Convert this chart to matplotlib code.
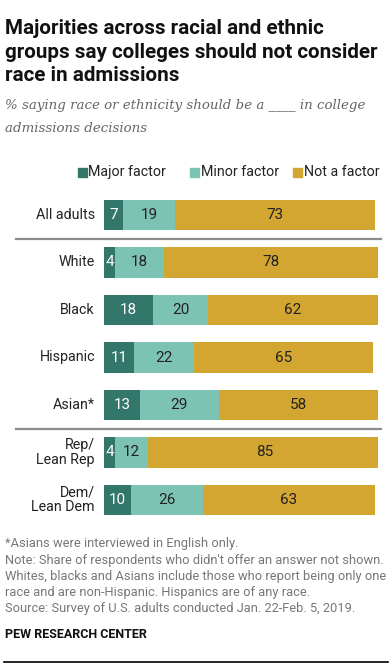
import matplotlib.pyplot as plt
from matplotlib.lines import Line2D
from matplotlib.patches import Rectangle

groups = ['All adults', 'White', 'Black', 'Hispanic', 'Asian*', 'Rep/\nLean Rep', 'Dem/\nLean Dem']
major = [7, 4, 18, 11, 13, 4, 10]
minor = [19, 18, 20, 22, 29, 12, 26]
not_factor = [73, 78, 62, 65, 58, 85, 63]
series_names = ['Major factor', 'Minor factor', 'Not a factor']
colors = ['#33776a', '#7dc3b3', '#d2a631']
text_colors = ['white', '#222222', '#222222']

W, H = 389, 669
fig = plt.figure(figsize=(W / 100, H / 100), dpi=100)

def fx(px):
    return px / W

def fy(py):
    return 1 - py / H

# bar area in pixels
left, right_px = 104, 104 + 274
top, bottom = 191.25, 523.75
ax = fig.add_axes([fx(left), fy(bottom), fx(right_px - left), (bottom - top) / H])
ax.set_xlim(0, 100)
ax.set_ylim(len(groups) - 0.5, -0.5)
ax.axis('off')

ypos = list(range(len(groups)))
starts = [0] * len(groups)
for vals, col, tcol in zip([major, minor, not_factor], colors, text_colors):
    ax.barh(ypos, vals, left=starts, height=0.65, color=col, linewidth=0)
    for y, s, v in zip(ypos, starts, vals):
        ax.text(s + v / 2, y, str(v), ha='center', va='center', color=tcol,
                fontsize=11, family='Roboto')
    starts = [s + v for s, v in zip(starts, vals)]

for y, g in zip(ypos, groups):
    ax.text(-3.3, y, g, ha='right', va='center', multialignment='right',
            fontsize=10.3, family='Roboto', color='#222222', linespacing=1.05)

# separators
for yy in [0.5, 4.5]:
    ax.axhline(yy, xmin=(16 - left) / 274, xmax=(381 - left) / 274,
               color='#8c8c8c', linewidth=1.6, clip_on=False)

# legend
for x0, name, col in zip([78, 190, 293], series_names, colors):
    fig.add_artist(Rectangle((fx(x0), fy(176.5)), fx(9), 9 / H, color=col,
                             transform=fig.transFigure))
    fig.text(fx(x0 + 10.5), fy(172), name, ha='left', va='center',
             fontsize=10.3, family='Roboto', color='#222222')

# title
fig.text(fx(5), fy(19), 'Majorities across racial and ethnic\ngroups say colleges should not consider\nrace in admissions',
         ha='left', va='top', fontsize=14.9, fontweight='bold', family='Roboto',
         color='#111111', linespacing=1.3)
fig.text(fx(5), fy(99), '% saying race or ethnicity should be a ____ in college\nadmissions decisions',
         ha='left', va='top', fontsize=9.6, style='italic', family='DejaVu Serif',
         color='#666666', linespacing=1.95)

notes = ['*Asians were interviewed in English only.',
         "Note: Share of respondents who didn't offer an answer not shown.",
         'Whites, blacks and Asians include those who report being only one',
         'race and are non-Hispanic. Hispanics are of any race.',
         'Source: Survey of U.S. adults conducted Jan. 22-Feb. 5, 2019.']
for i, line in enumerate(notes):
    fig.text(fx(5), fy(544 + i * 16.2), line, ha='left', va='center',
             fontsize=9.3, family='Roboto', color='#777777')

fig.text(fx(5), fy(635), 'PEW RESEARCH CENTER', ha='left', va='center',
         fontsize=9, fontweight='bold', family='Roboto', color='#111111')

fig.add_artist(Line2D([fx(4), fx(388)], [fy(662), fy(662)], color='black',
                      linewidth=1.2, transform=fig.transFigure))

fig.savefig('out.png', dpi=100)
